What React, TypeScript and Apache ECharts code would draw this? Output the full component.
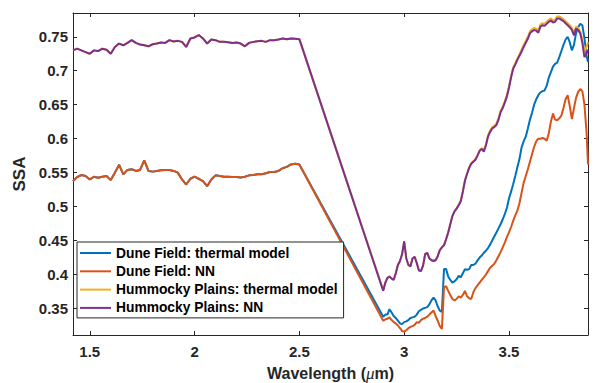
import React, { useEffect, useRef } from "react";
import * as echarts from "echarts";

// Wavelength grid (µm): reflectance region, gap, then the 3 µm band region
const wavelength = [
  1.42, 1.44, 1.46, 1.48, 1.5, 1.52, 1.54, 1.56, 1.58, 1.6,
  1.62, 1.64, 1.66, 1.68, 1.7, 1.72, 1.74, 1.76, 1.78, 1.8,
  1.82, 1.84, 1.86, 1.88, 1.9, 1.92, 1.94, 1.96, 1.98, 2.0,
  2.02, 2.04, 2.06, 2.08, 2.1, 2.12, 2.14, 2.16, 2.18, 2.2,
  2.22, 2.24, 2.26, 2.28, 2.3, 2.32, 2.34, 2.36, 2.38, 2.4,
  2.42, 2.44, 2.46, 2.48, 2.5,
  2.9, 2.91, 2.92, 2.93, 2.94, 2.95, 2.96, 2.97, 2.98, 2.99,
  3.0, 3.01, 3.02, 3.03, 3.04, 3.05, 3.06, 3.07, 3.08, 3.09,
  3.1, 3.11, 3.12, 3.13, 3.14, 3.15, 3.16, 3.17, 3.18, 3.19,
  3.2, 3.21, 3.22, 3.23, 3.24, 3.25, 3.26, 3.27, 3.28, 3.29,
  3.3, 3.31, 3.32, 3.33, 3.34, 3.35, 3.36, 3.37, 3.38, 3.39,
  3.4, 3.41, 3.42, 3.43, 3.44, 3.45, 3.46, 3.47, 3.48, 3.49,
  3.5, 3.51, 3.52, 3.53, 3.54, 3.55, 3.56, 3.57, 3.58, 3.59,
  3.6, 3.61, 3.62, 3.63, 3.64, 3.65, 3.66, 3.67, 3.68, 3.69,
  3.7, 3.71, 3.72, 3.73, 3.74, 3.75, 3.76, 3.77, 3.78, 3.79,
  3.8, 3.81, 3.82, 3.83, 3.84, 3.85, 3.86, 3.87, 3.877,
];

const duneThermal = [
  0.5375, 0.5435, 0.5465, 0.545, 0.54, 0.544, 0.5425, 0.544, 0.545, 0.539,
  0.55, 0.5615, 0.5475, 0.554, 0.555, 0.5525, 0.554, 0.568, 0.5525, 0.5515,
  0.5525, 0.5535, 0.554, 0.554, 0.5525, 0.55, 0.54, 0.5325, 0.541, 0.544,
  0.541, 0.5375, 0.53, 0.54, 0.546, 0.545, 0.544, 0.544, 0.5435, 0.5435,
  0.543, 0.544, 0.546, 0.5465, 0.5475, 0.5475, 0.549, 0.551, 0.551, 0.5525,
  0.5565, 0.5585, 0.562, 0.563, 0.562,
  0.338, 0.341, 0.341, 0.349, 0.344, 0.339, 0.336, 0.332, 0.328, 0.327,
  0.33, 0.331, 0.333, 0.336, 0.337, 0.338, 0.341, 0.346, 0.348, 0.35,
  0.351, 0.352, 0.356, 0.362, 0.366, 0.362, 0.353, 0.347, 0.345, 0.408,
  0.408, 0.397, 0.392, 0.388, 0.39, 0.393, 0.398, 0.396, 0.402, 0.408,
  0.407, 0.408, 0.414, 0.414, 0.416, 0.421, 0.425, 0.428, 0.432, 0.435,
  0.439, 0.444, 0.45, 0.456, 0.462, 0.468, 0.474, 0.481, 0.489, 0.498,
  0.512, 0.522, 0.533, 0.545, 0.558, 0.57, 0.587, 0.596, 0.603, 0.615,
  0.628, 0.638, 0.65, 0.658, 0.664, 0.668, 0.67, 0.671, 0.678, 0.69,
  0.698, 0.706, 0.71, 0.712, 0.72, 0.729, 0.738, 0.746, 0.75, 0.742,
  0.73, 0.738, 0.755, 0.764, 0.769, 0.767, 0.748, 0.722, 0.713,
];

const duneNN = [
  0.5375, 0.5435, 0.5465, 0.545, 0.54, 0.544, 0.5425, 0.544, 0.545, 0.539,
  0.55, 0.5615, 0.5475, 0.554, 0.555, 0.5525, 0.554, 0.568, 0.5525, 0.5515,
  0.5525, 0.5535, 0.554, 0.554, 0.5525, 0.55, 0.54, 0.5325, 0.541, 0.544,
  0.541, 0.5375, 0.53, 0.54, 0.546, 0.545, 0.544, 0.544, 0.5435, 0.5435,
  0.543, 0.544, 0.546, 0.5465, 0.5475, 0.5475, 0.549, 0.551, 0.551, 0.5525,
  0.5565, 0.5585, 0.562, 0.563, 0.562,
  0.332, 0.334, 0.335, 0.337, 0.333, 0.33, 0.328, 0.325, 0.321, 0.317,
  0.316, 0.318, 0.321, 0.323, 0.324, 0.326, 0.33, 0.329, 0.333, 0.335,
  0.336, 0.338, 0.341, 0.344, 0.347, 0.339, 0.332, 0.324, 0.32, 0.381,
  0.383, 0.376, 0.37, 0.364, 0.362, 0.364, 0.368, 0.366, 0.37, 0.376,
  0.368, 0.365, 0.364, 0.374, 0.38, 0.384, 0.388, 0.392, 0.396, 0.4,
  0.405, 0.41, 0.413, 0.416, 0.421, 0.427, 0.433, 0.44, 0.447, 0.455,
  0.462, 0.47, 0.479, 0.487, 0.494, 0.505, 0.52, 0.535, 0.545, 0.555,
  0.566, 0.577, 0.588, 0.596, 0.6, 0.6, 0.601, 0.6, 0.597, 0.608,
  0.625, 0.637, 0.628, 0.627, 0.63, 0.634, 0.645, 0.658, 0.664, 0.648,
  0.629, 0.645, 0.66, 0.669, 0.673, 0.67, 0.65, 0.61, 0.562,
];

const hummockyThermal = [
  0.73, 0.7325, 0.73, 0.7275, 0.725, 0.73, 0.729, 0.7325, 0.731, 0.725,
  0.735, 0.74, 0.7375, 0.741, 0.745, 0.741, 0.7385, 0.7375, 0.736, 0.739,
  0.74, 0.7415, 0.741, 0.745, 0.743, 0.744, 0.7425, 0.735, 0.7475, 0.749,
  0.7525, 0.7475, 0.74, 0.746, 0.745, 0.7425, 0.7425, 0.742, 0.741, 0.7415,
  0.74, 0.736, 0.741, 0.7425, 0.7435, 0.744, 0.7425, 0.745, 0.745, 0.746,
  0.7475, 0.7465, 0.7475, 0.747, 0.7465,
  0.377, 0.388, 0.395, 0.397, 0.394, 0.393, 0.402, 0.414, 0.42, 0.43,
  0.448, 0.424, 0.414, 0.413, 0.424, 0.426, 0.417, 0.407, 0.405, 0.413,
  0.43, 0.432, 0.424, 0.421, 0.421, 0.421, 0.427, 0.436, 0.44, 0.444,
  0.452, 0.462, 0.474, 0.486, 0.493, 0.497, 0.503, 0.509, 0.523, 0.539,
  0.549, 0.558, 0.564, 0.567, 0.57, 0.576, 0.583, 0.586, 0.583, 0.592,
  0.605, 0.612, 0.617, 0.619, 0.622, 0.63, 0.641, 0.647, 0.655, 0.664,
  0.677, 0.692, 0.705, 0.711, 0.718, 0.724, 0.731, 0.738, 0.744, 0.75,
  0.758, 0.761, 0.763, 0.762, 0.759, 0.768, 0.77, 0.769, 0.772, 0.775,
  0.777, 0.774, 0.775, 0.78, 0.78, 0.778, 0.776, 0.773, 0.77, 0.767,
  0.763, 0.756, 0.765, 0.763, 0.758, 0.746, 0.728, 0.735, 0.742,
];

const hummockyNN = [
  0.73, 0.7325, 0.73, 0.7275, 0.725, 0.73, 0.729, 0.7325, 0.731, 0.725,
  0.735, 0.74, 0.7375, 0.741, 0.745, 0.741, 0.7385, 0.7375, 0.736, 0.739,
  0.74, 0.7415, 0.741, 0.745, 0.743, 0.744, 0.7425, 0.735, 0.7475, 0.749,
  0.7525, 0.7475, 0.74, 0.746, 0.745, 0.7425, 0.7425, 0.742, 0.741, 0.7415,
  0.74, 0.736, 0.741, 0.7425, 0.7435, 0.744, 0.7425, 0.745, 0.745, 0.746,
  0.7475, 0.7465, 0.7475, 0.747, 0.7465,
  0.376, 0.388, 0.395, 0.397, 0.394, 0.392, 0.402, 0.414, 0.42, 0.43,
  0.449, 0.424, 0.414, 0.412, 0.424, 0.426, 0.417, 0.406, 0.405, 0.413,
  0.43, 0.432, 0.424, 0.421, 0.42, 0.421, 0.427, 0.436, 0.44, 0.443,
  0.452, 0.462, 0.474, 0.486, 0.493, 0.497, 0.502, 0.508, 0.522, 0.538,
  0.548, 0.557, 0.563, 0.566, 0.569, 0.575, 0.582, 0.585, 0.581, 0.59,
  0.603, 0.61, 0.615, 0.617, 0.62, 0.628, 0.639, 0.645, 0.653, 0.662,
  0.675, 0.69, 0.703, 0.709, 0.716, 0.722, 0.728, 0.735, 0.741, 0.747,
  0.755, 0.758, 0.76, 0.759, 0.756, 0.765, 0.767, 0.766, 0.769, 0.772,
  0.774, 0.771, 0.772, 0.777, 0.777, 0.775, 0.773, 0.77, 0.767, 0.764,
  0.76, 0.752, 0.762, 0.76, 0.755, 0.741, 0.72, 0.725, 0.731,
];

const seriesNames = [
  "Dune Field: thermal model",
  "Dune Field: NN",
  "Hummocky Plains: thermal model",
  "Hummocky Plains: NN",
];
const seriesColors = ["#0072BD", "#D95319", "#EDB120", "#7E2F8E"];
const xTicks = [1.5, 2, 2.5, 3, 3.5];
const yTicks = [0.35, 0.4, 0.45, 0.5, 0.55, 0.6, 0.65, 0.7, 0.75];

const FONT = "'Liberation Sans', Arial, Helvetica, sans-serif";
const AXIS_COLOR = "#262626";

export default function App() {
  const ref = useRef<HTMLDivElement>(null);

  useEffect(() => {
    if (!ref.current) return;
    const chart = echarts.init(ref.current, undefined, { renderer: "svg" });
    const allValues = [duneThermal, duneNN, hummockyThermal, hummockyNN];

    const axisLineStyle = { show: true, onZero: false, lineStyle: { color: AXIS_COLOR, width: 1 } };
    const tickLabel = {
      fontFamily: FONT,
      fontWeight: "bold" as const,
      fontSize: 15,
      color: AXIS_COLOR,
    };
    const xMin = 1.42, xMax = 3.877, yMin = 0.311, yMax = 0.785;

    chart.setOption({
      animation: false,
      backgroundColor: "#ffffff",
      textStyle: { fontFamily: FONT },
      grid: { left: 73, right: 6, top: 13, bottom: 48, outerBoundsMode: "none" },
      xAxis: [
        {
          type: "value",
          position: "bottom",
          min: xMin,
          max: xMax,
          axisLine: axisLineStyle,
          axisTick: { show: true, inside: true, length: 4, customValues: xTicks, lineStyle: { color: AXIS_COLOR } },
          axisLabel: { ...tickLabel, customValues: xTicks, margin: 9 },
          splitLine: { show: false },
          name: "{b|Wavelength (}{i|μ}{b|m)}",
          nameLocation: "middle",
          nameGap: 30,
          nameTextStyle: {
            lineHeight: 16,
            rich: {
              b: { fontFamily: FONT, fontWeight: "bold", fontSize: 16, lineHeight: 16, color: AXIS_COLOR },
              i: { fontFamily: "'Liberation Serif', serif", fontStyle: "italic", fontSize: 17, lineHeight: 16, color: AXIS_COLOR },
            },
          },
        },
        {
          type: "value",
          position: "top",
          min: xMin,
          max: xMax,
          axisLine: axisLineStyle,
          axisTick: { show: true, inside: true, length: 4, customValues: xTicks, lineStyle: { color: AXIS_COLOR } },
          axisLabel: { show: false },
          splitLine: { show: false },
        },
      ],
      yAxis: [
        {
          type: "value",
          position: "left",
          min: yMin,
          max: yMax,
          axisLine: axisLineStyle,
          axisTick: { show: true, inside: true, length: 4, customValues: yTicks, lineStyle: { color: AXIS_COLOR } },
          axisLabel: { ...tickLabel, customValues: yTicks, margin: 5 },
          splitLine: { show: false },
          name: "SSA",
          nameLocation: "middle",
          nameRotate: 90,
          nameGap: 42,
          nameTextStyle: { fontFamily: FONT, fontWeight: "bold", fontSize: 17, color: AXIS_COLOR },
        },
        {
          type: "value",
          position: "right",
          min: yMin,
          max: yMax,
          axisLine: axisLineStyle,
          axisTick: { show: true, inside: true, length: 4, customValues: yTicks, lineStyle: { color: AXIS_COLOR } },
          axisLabel: { show: false },
          splitLine: { show: false },
        },
      ],
      legend: {
        orient: "vertical",
        left: 77,
        top: 242,
        icon: "rect",
        itemWidth: 31,
        itemHeight: 2,
        itemGap: 4.3,
        padding: [4, 6, 3, 3],
        borderColor: AXIS_COLOR,
        borderWidth: 1,
        backgroundColor: "#ffffff",
        selectedMode: false,
        textStyle: { fontFamily: FONT, fontWeight: "bold", fontSize: 13.8, lineHeight: 14, color: "#000000" },
        data: seriesNames,
      },
      series: seriesNames.map((name, k) => ({
        name,
        type: "line",
        xAxisIndex: 0,
        yAxisIndex: 0,
        symbol: "none",
        showSymbol: false,
        color: seriesColors[k],
        lineStyle: { width: 2, color: seriesColors[k] },
        data: wavelength.map((w, i) => [w, allValues[k][i]]),
      })),
    });

    return () => chart.dispose();
  }, []);

  return (
    <div
      ref={ref}
      style={{ position: "fixed", left: 0, top: 0, width: 594, height: 383, background: "#fff" }}
    />
  );
}
